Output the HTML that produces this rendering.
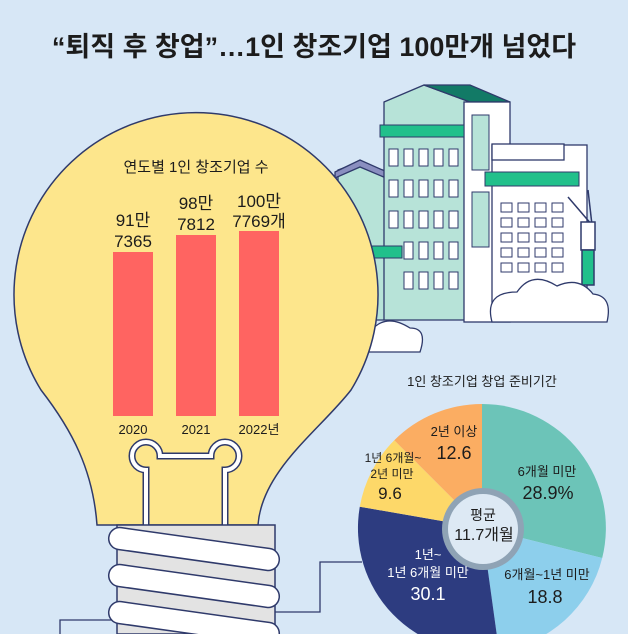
<!DOCTYPE html>
<html><head><meta charset="utf-8"><style>
html,body{margin:0;padding:0;background:#d7e7f6;}
svg{display:block;font-family:"Liberation Sans","Noto Sans CJK KR",sans-serif;}
</style></head><body>
<svg width="628" height="634" viewBox="0 0 628 634" xmlns="http://www.w3.org/2000/svg">
<rect width="628" height="634" fill="#d7e7f6"/>
<text x="314" y="56" font-size="27" font-weight="bold" text-anchor="middle" fill="#1c1c1c">“퇴직 후 창업”…1인 창조기업 100만개 넘었다</text>

<!-- buildings -->
<g stroke="#2f3a6b" stroke-width="1.3">
 <polygon points="338,170 360,162 405,178 405,320 338,320" fill="#b7e3d8"/>
 <polygon points="335,172 360,160 405,180 405,186 360,167 335,178" fill="#8a8fc0"/>
 <polygon points="384,102 424,85 470,102 470,320 384,320" fill="#b7e3d8"/>
 <polygon points="424,85 470,85 510,102 470,102" fill="#127a66"/>
 <rect x="464" y="102" width="46" height="220" fill="#fff"/>
 <rect x="492" y="145" width="95" height="170" fill="#fff"/>
 <rect x="492" y="144" width="72" height="16" fill="#fff"/>
</g>
<g fill="#21c08b" stroke="#2f3a6b" stroke-width="1">
 <rect x="380" y="125" width="84" height="12"/>
 <rect x="485" y="172" width="94" height="14"/>
 <rect x="372" y="246" width="30" height="12"/>
</g>
<g fill="#fff" stroke="#2f3a6b" stroke-width="1">
 <rect x="389" y="149" width="9" height="17"/><rect x="404" y="149" width="9" height="17"/><rect x="419" y="149" width="9" height="17"/><rect x="434" y="149" width="9" height="17"/><rect x="449" y="149" width="9" height="17"/>
 <rect x="389" y="180" width="9" height="17"/><rect x="404" y="180" width="9" height="17"/><rect x="419" y="180" width="9" height="17"/><rect x="434" y="180" width="9" height="17"/><rect x="449" y="180" width="9" height="17"/>
 <rect x="389" y="211" width="9" height="17"/><rect x="404" y="211" width="9" height="17"/><rect x="419" y="211" width="9" height="17"/><rect x="434" y="211" width="9" height="17"/><rect x="449" y="211" width="9" height="17"/>
 <rect x="404" y="242" width="9" height="17"/><rect x="419" y="242" width="9" height="17"/><rect x="434" y="242" width="9" height="17"/><rect x="449" y="242" width="9" height="17"/>
 <rect x="404" y="272" width="9" height="17"/><rect x="419" y="272" width="9" height="17"/><rect x="434" y="272" width="9" height="17"/><rect x="449" y="272" width="9" height="17"/>
 <rect x="501" y="203" width="11" height="9"/><rect x="518" y="203" width="11" height="9"/><rect x="535" y="203" width="11" height="9"/><rect x="552" y="203" width="11" height="9"/>
 <rect x="501" y="218" width="11" height="9"/><rect x="518" y="218" width="11" height="9"/><rect x="535" y="218" width="11" height="9"/><rect x="552" y="218" width="11" height="9"/>
 <rect x="501" y="233" width="11" height="9"/><rect x="518" y="233" width="11" height="9"/><rect x="535" y="233" width="11" height="9"/><rect x="552" y="233" width="11" height="9"/>
 <rect x="501" y="248" width="11" height="9"/><rect x="518" y="248" width="11" height="9"/><rect x="535" y="248" width="11" height="9"/><rect x="552" y="248" width="11" height="9"/>
 <rect x="501" y="263" width="11" height="9"/><rect x="518" y="263" width="11" height="9"/><rect x="535" y="263" width="11" height="9"/><rect x="552" y="263" width="11" height="9"/>
 <rect x="472" y="115" width="17" height="55" fill="#b7e3d8"/><rect x="472" y="192" width="17" height="55" fill="#b7e3d8"/>
</g>
<g stroke="#2f3a6b" stroke-width="1.5">
 <line x1="568" y1="197" x2="592" y2="225"/><line x1="588" y1="190" x2="592" y2="225"/>
 <rect x="581" y="222" width="14" height="28" fill="#fff"/>
 <rect x="582" y="250" width="12" height="35" fill="#21c08b"/>
</g>
<path d="M492,322 q-8,-30 25,-30 q15,-22 40,-6 q22,-10 36,8 q20,2 14,28 z" fill="#fff" stroke="#2f3a6b" stroke-width="1.3"/>
<path d="M352,352 q-8,-20 18,-20 q15,-20 40,-4 q18,0 10,24 z" fill="#fff" stroke="#2f3a6b" stroke-width="1.3"/>

<!-- bulb -->
<path d="M41,390 A182,182 0 1 1 351,390 C320,430 262,470 258,525 L97,525 C93,470 72,430 41,390 Z" fill="#fde68c" stroke="#2f3a6b" stroke-width="1.5"/>
<g fill="none" stroke="#2f3a6b" stroke-width="7">
 <path d="M146,525 V470 a14,14 0 1 1 14,-14 h30"/>
 <path d="M225,525 V470 a14,14 0 1 0 -14,-14 h-30"/>
</g>
<g fill="none" stroke="#fff" stroke-width="4">
 <path d="M146,525 V470 a14,14 0 1 1 14,-14 h30"/>
 <path d="M225,525 V470 a14,14 0 1 0 -14,-14 h-30"/>
</g>
<rect x="117" y="525" width="158" height="109" fill="#e3e3e3" stroke="#2f3a6b" stroke-width="1.5"/>
<g fill="#fff" stroke="#2f3a6b" stroke-width="1.5">
 <rect x="108" y="538" width="172" height="22" rx="11" transform="rotate(8 194 549)"/>
 <rect x="108" y="575" width="172" height="22" rx="11" transform="rotate(8 194 586)"/>
 <rect x="108" y="612" width="172" height="22" rx="11" transform="rotate(8 194 623)"/>
</g>
<path d="M275,612 H320 V562 H362" fill="none" stroke="#2f3a6b" stroke-width="1.3"/>
<path d="M60,634 V620 H112" fill="none" stroke="#2f3a6b" stroke-width="1.3"/>

<text x="196" y="172" font-size="15" text-anchor="middle" fill="#1c1c1c">연도별 1인 창조기업 수</text>
<rect x="113" y="252" width="40" height="164" fill="#ff6461"/>
<rect x="176" y="235" width="40" height="181" fill="#ff6461"/>
<rect x="239" y="231" width="40" height="185" fill="#ff6461"/>
<g font-size="17" text-anchor="middle" fill="#1c1c1c">
 <text x="133" y="226">91만</text><text x="133" y="247">7365</text>
 <text x="196" y="209">98만</text><text x="196" y="230">7812</text>
 <text x="259" y="207">100만</text><text x="259" y="227">7769개</text>
</g>
<g font-size="13" text-anchor="middle" fill="#1c1c1c">
 <text x="133" y="434">2020</text><text x="196" y="434">2021</text><text x="259" y="434">2022년</text>
</g>

<text x="482" y="386" font-size="13" text-anchor="middle" fill="#1c1c1c">1인 창조기업 창업 준비기간</text>
<g stroke="none">
 <path d="M482,528 L482,404 A124,124 0 0 1 602.2,558.0 Z" fill="#6cc4b8"/>
 <path d="M482,528 L602.2,558.0 A124,124 0 0 1 499.0,650.8 Z" fill="#8dcfec"/>
 <path d="M482,528 L499.0,650.8 A124,124 0 0 1 359.8,506.7 Z" fill="#2d3c80"/>
 <path d="M482,528 L359.8,506.7 A124,124 0 0 1 394.3,440.3 Z" fill="#fdd869"/>
 <path d="M482,528 L394.3,440.3 A124,124 0 0 1 482,404 Z" fill="#fbad62"/>
</g>
<circle cx="483" cy="529" r="41" fill="#8fa3b5"/>
<circle cx="483" cy="529" r="35" fill="#dde9f4"/>
<g text-anchor="middle" fill="#1c1c1c">
 <text x="483" y="520" font-size="14">평균</text>
 <text x="484" y="540" font-size="16">11.7개월</text>
 <text x="454" y="436" font-size="13">2년 이상</text><text x="454" y="459" font-size="18">12.6</text>
 <text x="393" y="462" font-size="12">1년 6개월~</text><text x="392" y="478" font-size="12">2년 미만</text><text x="390" y="499" font-size="17">9.6</text>
 <text x="547" y="476" font-size="13">6개월 미만</text><text x="548" y="499" font-size="18">28.9%</text>
 <text x="547" y="579" font-size="13">6개월~1년 미만</text><text x="545" y="603" font-size="18">18.8</text>
 <g fill="#fff"><text x="428" y="559" font-size="13">1년~</text><text x="428" y="577" font-size="13">1년 6개월 미만</text><text x="428" y="600" font-size="18">30.1</text></g>
</g>
</svg>
</body></html>
